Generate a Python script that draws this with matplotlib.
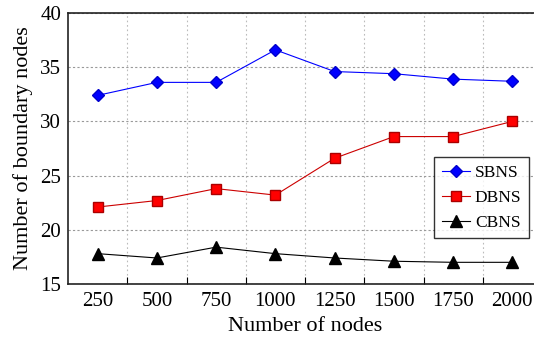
import numpy as np
import matplotlib.pyplot as plt

nodes = ["250", "500", "750", "1000", "1250", "1500", "1750", "2000"]
sbns = [32.4, 33.6, 33.6, 36.6, 34.6, 34.4, 33.9, 33.7]
dbns = [22.1, 22.7, 23.8, 23.2, 26.6, 28.6, 28.6, 30.0]
cbns = [17.8, 17.4, 18.4, 17.8, 17.4, 17.1, 17.0, 17.0]

plt.rcParams['font.family'] = ['Liberation Serif', 'DejaVu Serif']

fig = plt.figure(figsize=(5.34, 3.40), dpi=100)
ax = fig.add_axes([68 / 534, 56 / 340, 474 / 534, 271 / 340])

x = np.arange(len(nodes))
ax.plot(x, sbns, color='#0000ff', lw=0.8, marker='D', ms=6.5,
        mfc='#0000ff', mec='#0000cc', label='SBNS')
ax.plot(x, dbns, color='#cc0000', lw=0.8, marker='s', ms=7.5,
        mfc='#ff0000', mec='#aa0000', label='DBNS')
ax.plot(x, cbns, color='black', lw=0.8, marker='^', ms=8,
        mfc='black', mec='black', label='CBNS')

ax.set_xlim(-0.5, 7.5)
ax.set_ylim(15, 40)
ax.set_xticks(x)
ax.set_xticklabels(nodes)
ax.set_xticks(np.arange(0.5, 7, 1), minor=True)
ax.set_yticks([15, 20, 25, 30, 35, 40])

ax.tick_params(axis='x', which='major', length=0, labelsize=15, pad=6)
ax.tick_params(axis='x', which='minor', direction='in', length=5, width=0.8)
ax.tick_params(axis='y', direction='in', length=0, labelsize=15, pad=5)

ax.grid(axis='y', which='major', color='#999999', ls=(0, (2, 2)), lw=0.8)
ax.grid(axis='x', which='minor', color='#bbbbbb', ls=(0, (1.5, 2.5)), lw=0.8)

for s in ax.spines.values():
    s.set_linewidth(1.2)
    s.set_color('#222222')

ax.set_xlabel('Number of nodes', fontsize=16, labelpad=4)
ax.set_ylabel('Number of boundary nodes', fontsize=16, labelpad=5)

leg = ax.legend(loc='upper left', bbox_to_anchor=((434 - 68) / 474, (284 - 157) / 271),
                fontsize=12.5, frameon=True, fancybox=False, borderpad=0.45,
                handlelength=1.6, labelspacing=0.5, handletextpad=0.3,
                borderaxespad=0)
leg.get_frame().set_edgecolor('black')
leg.get_frame().set_linewidth(1.0)

fig.savefig('out.png', dpi=100)
